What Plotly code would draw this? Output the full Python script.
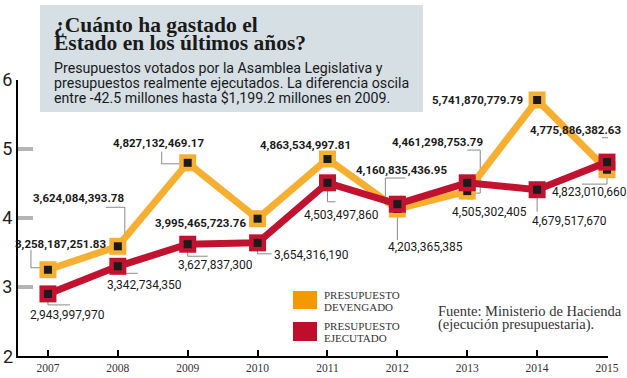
import plotly.graph_objects as go

# ---------------- data ----------------
years = [2007, 2008, 2009, 2010, 2011, 2012, 2013, 2014, 2015]
year_labels = ["2007", "2008", "2009", "2010", "2011", "2012", "2013", "2014", "2015"]

# plotted values (billions)
devengado = [3.25, 3.59, 4.80, 3.99, 4.855, 4.13, 4.39, 5.71, 4.70]
ejecutado = [2.90, 3.30, 3.62, 3.64, 4.51, 4.20, 4.51, 4.41, 4.81]

devengado_text = ["3,258,187,251.83", "3,624,084,393.78", "4,827,132,469.17",
                  "3,995,465,723.76", "4,863,534,997.81", "4,160,835,436.95",
                  "4,461,298,753.79", "5,741,870,779.79", "4,775,886,382.63"]
ejecutado_text = ["2,943,997,970", "3,342,734,350", "3,627,837,300",
                  "3,654,316,190", "4,503,497,860", "4,203,365,385",
                  "4,505,302,405", "4,679,517,670", "4,823,010,660"]

y_ticks = [3, 4, 5, 6]

# ---------------- styling / layout helpers ----------------
W, H = 627, 378
ML, MR, MT, MB = 18, 19, 80, 22
X0_PX = ML
Y0_PX = H - MB
PW = W - ML - MR
PH = H - MT - MB

def pxx(px):
    return (px - X0_PX) / PW

def pxy(py):
    return (Y0_PX - py) / PH

ORANGE = "#F7AF31"
RED = "#C1122F"
ORANGE_LEG = "#F29A00"
RED_LEG = "#BF0D2C"
INNER = "#1b1b1b"
LEADER = "#8a8a8a"

LABEL_FONT = "Roboto, sans-serif"
SERIF = "Liberation Serif, serif"

# label offsets (pixels, y up) relative to each point
dev_off = [(13, 26), (-39, 48), (-29, 20), (-57, -4), (-22, 14), (4, 39), (-30, 49), (-60, 0), (-32, 40)]
eje_off = [(20, -21), (27, -19), (28, -21), (54, -12), (14, -32), (28, -43), (22, -29), (32, -31), (-18, -30)]

# leader line paths (pixels, y up) relative to each point
dev_lead = ["M -5 2 H -17 V 20", "M 5 3 H 7 V 39 H -12", "M -8 -1 H -26 V 11", None, None,
            "M -7 4 H -12 V 31 H 8", "M 6 -2 H 13 V 41 H 0", None, "M 6 -3 H 14 V 32 H -5"]
eje_lead = ["M 0 0 V -11 H 22", "M 0 0 V -7 H 20", "M 0 0 V -12 H 20", "M 0 0 V -11 H 14",
            "M 0 0 V -19 H 8", "M 0 0 V -36", "M 0 0 V -16 H 6", "M 0 0 V -22", "M 0 -14 V -22 H -25"]

fig = go.Figure()

for vals, col in [(devengado, ORANGE), (ejecutado, RED)]:
    fig.add_trace(go.Scatter(
        x=years, y=vals, mode="lines+markers",
        line=dict(color=col, width=7),
        marker=dict(symbol="square", size=17, color=col),
        cliponaxis=False, hoverinfo="skip", showlegend=False))
    fig.add_trace(go.Scatter(
        x=years, y=vals, mode="markers",
        marker=dict(symbol="square", size=8, color=INNER),
        cliponaxis=False, hoverinfo="skip", showlegend=False))

shapes = []
annotations = []

for vals, texts, offs, leads, bold in [
        (devengado, devengado_text, dev_off, dev_lead, True),
        (ejecutado, ejecutado_text, eje_off, eje_lead, False)]:
    for yr, v, t, (dx, dy), lp in zip(years, vals, texts, offs, leads):
        annotations.append(dict(
            x=yr, y=v, xref="x", yref="y", text=t, showarrow=False,
            xanchor="center", yanchor="middle", xshift=dx, yshift=dy,
            font=dict(family=LABEL_FONT, size=11.5 if bold else 12,
                      color="#1a1a1a", weight="bold" if bold else "normal")))
        if lp:
            shapes.append(dict(
                type="path", xref="x", yref="y", xsizemode="pixel", ysizemode="pixel",
                xanchor=yr, yanchor=v, path=lp, layer="below",
                line=dict(color=LEADER, width=1)))

# title box
shapes.append(dict(type="rect", xref="paper", yref="paper",
                   x0=pxx(40), x1=pxx(423), y0=pxy(112), y1=pxy(5),
                   fillcolor="#D5DFE4", line=dict(width=0), layer="below"))

title_lines = [("¿Cuánto ha gastado el", 24.5), ("Estado en los últimos años?", 43.5)]
for txt, cy in title_lines:
    annotations.append(dict(x=pxx(52), y=pxy(cy), xref="paper", yref="paper",
                            text=txt, showarrow=False, xanchor="left", yanchor="middle",
                            font=dict(family=SERIF, size=21.5, color="#1a1a1a", weight="bold")))

sub_lines = [("Presupuestos votados por la Asamblea Legislativa y", 68),
             ("presupuestos realmente ejecutados. La diferencia oscila", 83),
             ("entre -42.5 millones hasta $1,199.2 millones en 2009.", 98)]
for txt, cy in sub_lines:
    annotations.append(dict(x=pxx(52), y=pxy(cy), xref="paper", yref="paper",
                            text=txt, showarrow=False, xanchor="left", yanchor="middle",
                            font=dict(family="Roboto, sans-serif", size=14.2, color="#1a1a1a")))

# legend
legend_items = [("PRESUPUESTO", "DEVENGADO", ORANGE_LEG, 291, 309),
                ("PRESUPUESTO", "EJECUTADO", RED_LEG, 322, 341)]
for l1, l2, col, y0, y1 in legend_items:
    shapes.append(dict(type="rect", xref="paper", yref="paper",
                       x0=pxx(293), x1=pxx(317), y0=pxy(y1), y1=pxy(y0),
                       fillcolor=col, line=dict(width=0)))
    annotations.append(dict(x=pxx(322), y=pxy(y0 + 4), xref="paper", yref="paper",
                            text=l1, showarrow=False, xanchor="left", yanchor="middle",
                            font=dict(family=SERIF, size=11, color="#333333")))
    annotations.append(dict(x=pxx(322), y=pxy(y0 + 16), xref="paper", yref="paper",
                            text=l2, showarrow=False, xanchor="left", yanchor="middle",
                            font=dict(family=SERIF, size=11, color="#333333")))

# source
for txt, cy in [("Fuente: Ministerio de Hacienda", 311), ("(ejecución presupuestaria).", 324)]:
    annotations.append(dict(x=pxx(436), y=pxy(cy), xref="paper", yref="paper",
                            text=txt, showarrow=False, xanchor="left", yanchor="middle",
                            font=dict(family=SERIF, size=14.5, color="#333333")))

# "2" label at the axis origin
annotations.append(dict(x=0, y=2, xref="paper", yref="y", text="2", showarrow=False,
                        xanchor="right", yanchor="middle", xshift=-3,
                        font=dict(family="Roboto, sans-serif", size=18, color="#222222")))

fig.update_layout(
    width=W, height=H,
    margin=dict(l=ML, r=MR, t=MT, b=MB, pad=0),
    paper_bgcolor="white", plot_bgcolor="rgba(0,0,0,0)",
    showlegend=False,
    shapes=shapes, annotations=annotations,
    xaxis=dict(range=[2007 - 30 / 70, 2015 + 1 / 70], tickmode="array",
               tickvals=years, ticktext=year_labels,
               ticks="inside", ticklen=6, tickwidth=2, tickcolor="black",
               showline=True, linecolor="black", linewidth=2,
               showgrid=False, zeroline=False, automargin=False,
               tickfont=dict(family=SERIF, size=11.5, color="#333333")),
    yaxis=dict(range=[2, 6], tickmode="array", tickvals=y_ticks,
               ticktext=[str(t) for t in y_ticks],
               ticks="inside", ticklen=15, tickwidth=4, tickcolor="#b5b5b5",
               showline=True, linecolor="black", linewidth=2,
               showgrid=False, zeroline=False, automargin=False,
               tickfont=dict(family="Roboto, sans-serif", size=18, color="#222222")),
)

fig.write_html("out.html", config={"displayModeBar": False},
               post_script="document.body.style.margin='0px';")
